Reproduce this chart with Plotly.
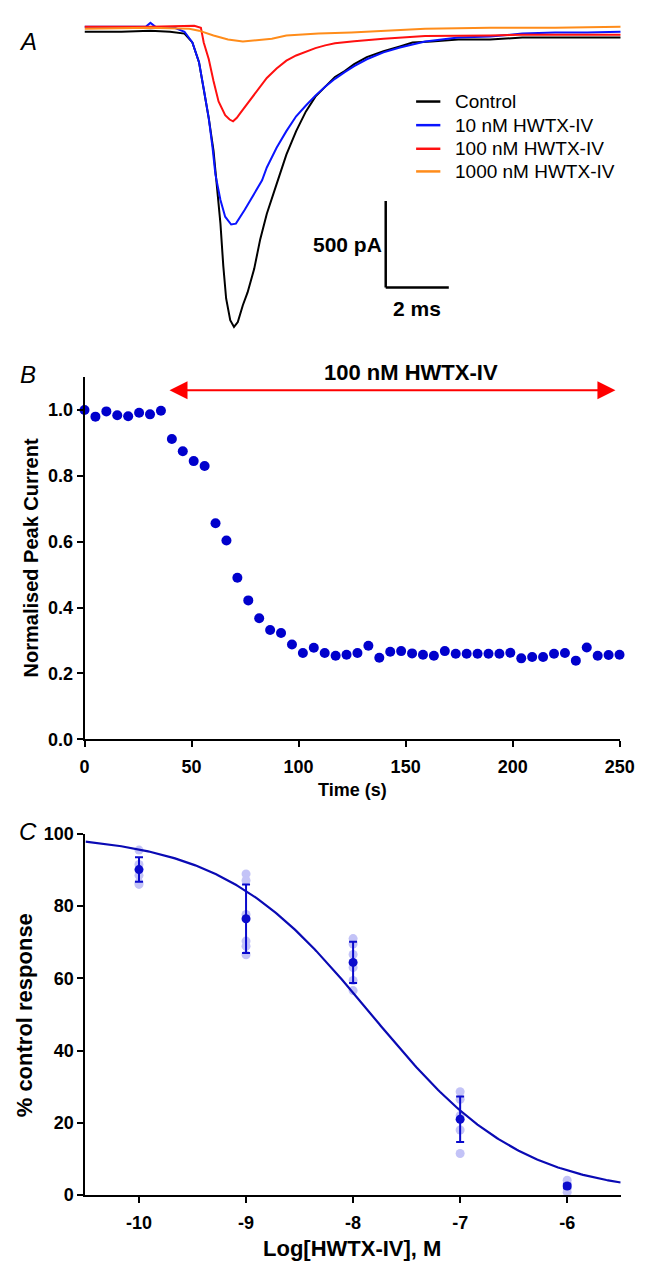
import numpy as np
import plotly.graph_objects as go

# ---------------- Panel A data: current traces (time in ms, current in pA) -------------
ctrl_t = [0, 1.17, 2.09, 2.71, 3.17, 3.42, 3.63, 3.78, 3.94, 4.09, 4.18, 4.31, 4.40, 4.49, 4.62, 4.74,
          4.86, 5.02, 5.17, 5.38, 5.57, 5.78, 6.09, 6.40, 6.71, 7.02, 7.32, 7.63, 7.94, 8.25, 8.55,
          8.95, 9.48, 10.0, 10.4, 11.0, 11.85, 12.86, 13.88, 14.92, 15.94, 17.0]
ctrl_i = [-23, -23, -17, -23, -34, -85, -199, -352, -523, -710, -881, -1131, -1375, -1563, -1688, -1727,
          -1699, -1602, -1528, -1392, -1222, -1074, -903, -733, -597, -483, -398, -341, -284, -250, -210,
          -170, -136, -108, -85, -80, -68, -68, -57, -57, -57, -57]

t10_t = [0, 1.17, 1.94, 2.09, 2.25, 2.86, 3.17, 3.42, 3.63, 3.78, 3.94, 4.06, 4.15, 4.31, 4.46, 4.65,
         4.80, 5.08, 5.38, 5.63, 5.78, 6.09, 6.40, 6.71, 7.02, 7.32, 7.63, 7.94, 8.25, 8.55, 8.95,
         9.48, 10.0, 10.8, 11.85, 12.86, 13.88, 14.92, 15.94, 17.0]
t10_i = [6, 6, 6, 28, 6, 0, -23, -85, -199, -352, -523, -693, -847, -994, -1091, -1136,
         -1131, -1051, -960, -881, -807, -693, -597, -511, -449, -392, -341, -295, -256, -222, -182,
         -142, -114, -80, -57, -51, -34, -28, -28, -23]

t100_t = [0, 2.09, 3.48, 3.69, 3.78, 3.94, 4.09, 4.25, 4.46, 4.60, 4.71, 4.83, 4.95, 5.26, 5.57, 5.78,
          6.09, 6.40, 6.71, 7.02, 7.32, 7.63, 7.94, 8.55, 9.48, 10.8, 11.85, 12.86, 13.88, 15.94, 17.0]
t100_i = [6, 6, 11, 0, -85, -182, -307, -426, -505, -530, -540, -520, -490, -415, -340, -290,
          -235, -190, -160, -138, -118, -102, -90, -78, -63, -48, -48, -45, -40, -40, -40]

t1000_t = [0, 2.09, 3.32, 3.63, 4.09, 4.55, 5.02, 5.48, 5.94, 6.40, 7.42, 8.46, 9.48, 10.8, 12.86, 14.92, 17.0]
t1000_i = [-6, 0, -6, -17, -45, -68, -80, -72, -63, -45, -34, -28, -17, -6, 0, 0, 6]

trace_names = ["Control", "10 nM HWTX-IV", "100 nM HWTX-IV", "1000 nM HWTX-IV"]
trace_colors = ["#000000", "#0a14ff", "#ff1010", "#ff8c1a"]

# ---------------- Panel B data: time course ----------------
time_s = [0, 5.1, 10.2, 15.3, 20.4, 25.5, 30.6, 35.7, 40.8, 45.9, 51.0, 56.1, 61.2, 66.3, 71.4, 76.5,
          81.6, 86.7, 91.8, 96.9, 102.0, 107.1, 112.2, 117.3, 122.4, 127.5, 132.6, 137.7, 142.8, 147.9,
          153.0, 158.1, 163.2, 168.3, 173.4, 178.5, 183.6, 188.7, 193.8, 198.9, 204.0, 209.1, 214.2,
          219.3, 224.4, 229.5, 234.6, 239.7, 244.8, 249.9]
peak_norm = [1.000, 0.980, 0.996, 0.984, 0.981, 0.992, 0.987, 0.998, 0.912, 0.875, 0.845, 0.830,
             0.656, 0.604, 0.491, 0.422, 0.368, 0.332, 0.323, 0.288, 0.262, 0.278, 0.262, 0.254,
             0.257, 0.262, 0.284, 0.248, 0.266, 0.268, 0.261, 0.257, 0.254, 0.268, 0.260, 0.260,
             0.260, 0.260, 0.260, 0.263, 0.246, 0.250, 0.250, 0.260, 0.262, 0.239, 0.279, 0.254,
             0.256, 0.257]
app_start, app_end, app_y = 39, 248, 1.06

# ---------------- Panel C data: concentration-response ----------------
log_conc = [-10, -9, -8, -7, -6]
log_conc_labels = ["-10", "-9", "-8", "-7", "-6"]
resp_mean = [90.1, 76.5, 64.4, 21.0, 2.5]
resp_err = [3.4, 9.5, 5.7, 6.3, 0.6]
indiv_x = [-10] * 5 + [-9] * 6 + [-8] * 6 + [-7] * 5 + [-6] * 4
indiv_y = [95.5, 91.5, 88.5, 86.5, 86.0,
           88.9, 87.1, 77.7, 70.3, 68.9, 66.5,
           71.0, 69.5, 66.6, 63.0, 59.4, 56.6,
           28.6, 26.5, 22.0, 18.0, 11.5,
           4.1, 3.0, 2.0, 0.8]
# Hill fit parameters
fit_top, fit_bottom, fit_logic50, fit_hill = 100.0, 0.0, -7.83, 0.62

W, H = 658, 1271
def px_x(p):
    return p / W
def px_y(p):
    return 1 - p / H

fig = go.Figure()

# Panel A traces
for tt, ii, nm, col in zip([ctrl_t, t10_t, t100_t, t1000_t], [ctrl_i, t10_i, t100_i, t1000_i],
                           trace_names, trace_colors):
    fig.add_trace(go.Scatter(x=tt, y=ii, mode="lines", name=nm, line=dict(color=col, width=2),
                             xaxis="x", yaxis="y", showlegend=False))

# Panel B
fig.add_trace(go.Scatter(x=time_s, y=peak_norm, mode="markers", marker=dict(color="#0000cc", size=10),
                         xaxis="x2", yaxis="y2", showlegend=False, cliponaxis=False))

# Panel C
xf = np.linspace(-10.5, -5.5, 300)
yf = fit_bottom + (fit_top - fit_bottom) / (1 + 10 ** ((xf - fit_logic50) * fit_hill))
fig.add_trace(go.Scatter(x=indiv_x, y=indiv_y, mode="markers", marker=dict(color="#c3c3f7", size=9),
                         xaxis="x3", yaxis="y3", showlegend=False, cliponaxis=False))
fig.add_trace(go.Scatter(x=xf, y=yf, mode="lines", line=dict(color="#0a0ab4", width=2.2),
                         xaxis="x3", yaxis="y3", showlegend=False))
fig.add_trace(go.Scatter(x=log_conc, y=resp_mean, mode="markers", marker=dict(color="#0a0acc", size=9),
                         error_y=dict(type="data", array=resp_err, color="#0a0acc", thickness=2, width=4),
                         xaxis="x3", yaxis="y3", showlegend=False, cliponaxis=False))

axis_common = dict(showline=True, linewidth=2, linecolor="black", ticks="outside", ticklen=6,
                   tickwidth=2, tickcolor="black", showgrid=False, zeroline=False,
                   tickfont=dict(family="Arial", size=18, color="black", weight="bold"))

fig.update_layout(
    width=W, height=H, margin=dict(l=0, r=0, t=0, b=0),
    paper_bgcolor="white", plot_bgcolor="white",
    font=dict(family="Arial", color="black"),
    showlegend=False,
    xaxis=dict(domain=[px_x(82), px_x(635)], range=[0, 17.0], visible=False),
    yaxis=dict(domain=[px_y(330), px_y(0)], range=[-1772.7, 102.3], visible=False),
    xaxis2=dict(axis_common, domain=[px_x(82), px_x(634)], range=[0, 250], anchor="y2",
                tickvals=[0, 50, 100, 150, 200, 250], ticklabelstandoff=4),
    yaxis2=dict(axis_common, domain=[px_y(741), px_y(373)], range=[0, 1.1], anchor="x2",
                tickvals=[0, 0.2, 0.4, 0.6, 0.8, 1.0], ticktext=["0.0", "0.2", "0.4", "0.6", "0.8", "1.0"]),
    xaxis3=dict(axis_common, domain=[px_x(83), px_x(635)], range=[-10.5, -5.5], anchor="y3",
                tickvals=log_conc, ticktext=log_conc_labels, ticklabelstandoff=4),
    yaxis3=dict(axis_common, domain=[px_y(1204), px_y(837)], range=[0, 100], anchor="x3",
                tickvals=[0, 20, 40, 60, 80, 100]),
)

# legend (panel A), drawn as line samples + labels
leg_rows_px = [93, 117, 141, 164]
for nm, col, ry in zip(trace_names, trace_colors, leg_rows_px):
    fig.add_shape(type="line", xref="paper", yref="paper", x0=px_x(424), x1=px_x(449),
                  y0=px_y(ry), y1=px_y(ry), line=dict(color=col, width=2.5))

# scale bar (panel A)
sb_t, sb_i_top, sb_i_bot, sb_len_t = 9.55, -1000, -1500, 2.0
fig.add_shape(type="line", xref="x", yref="y", x0=sb_t, x1=sb_t, y0=sb_i_top, y1=sb_i_bot,
              line=dict(color="black", width=2.5))
fig.add_shape(type="line", xref="x", yref="y", x0=sb_t, x1=sb_t + sb_len_t, y0=sb_i_bot, y1=sb_i_bot,
              line=dict(color="black", width=2.5))

ann = []
bold = dict(family="Arial", color="black", weight="bold")
for nm, ry in zip(trace_names, leg_rows_px):
    ann.append(dict(xref="paper", yref="paper", x=px_x(462), y=px_y(ry), text=nm, showarrow=False,
                    xanchor="left", yanchor="middle", font=dict(family="Arial", size=19, color="black")))
ann.append(dict(xref="x", yref="y", x=sb_t - 0.05, y=-1250, text="500 pA", showarrow=False,
                xanchor="right", yanchor="middle", font=dict(bold, size=21)))
ann.append(dict(xref="x", yref="y", x=sb_t + sb_len_t / 2, y=-1540, text="2 ms", showarrow=False,
                xanchor="center", yanchor="top", font=dict(bold, size=21)))
# panel letters
for lab, yy in [("A", 32), ("B", 370), ("C", 835)]:
    ann.append(dict(xref="paper", yref="paper", x=px_x(24), y=px_y(yy), text="<i>" + lab + "</i>",
                    showarrow=False, xanchor="center", yanchor="middle",
                    font=dict(family="Arial", size=24, color="black")))
# Panel B arrow and label
ann.append(dict(xref="x2", yref="y2", axref="x2", ayref="y2", x=app_end, y=app_y, ax=app_start, ay=app_y,
                text="", showarrow=True, arrowhead=2, startarrowhead=2, arrowside="end+start",
                arrowwidth=2, arrowsize=1.8, startarrowsize=1.8, arrowcolor="#ff0000"))
ann.append(dict(xref="paper", yref="paper", x=px_x(419), y=px_y(368), text="100 nM HWTX-IV",
                showarrow=False, xanchor="center", yanchor="middle", font=dict(bold, size=22)))
# axis titles
ann.append(dict(xref="paper", yref="paper", x=px_x(27), y=px_y(557), text="Normalised Peak Current",
                textangle=-90, showarrow=False, xanchor="center", yanchor="middle", font=dict(bold, size=20)))
ann.append(dict(xref="paper", yref="paper", x=px_x(358), y=px_y(792), text="Time (s)",
                showarrow=False, xanchor="center", yanchor="middle", font=dict(bold, size=18)))
ann.append(dict(xref="paper", yref="paper", x=px_x(21), y=px_y(1021), text="% control response",
                textangle=-90, showarrow=False, xanchor="center", yanchor="middle", font=dict(bold, size=22)))
ann.append(dict(xref="paper", yref="paper", x=px_x(358), y=px_y(1258), text="Log[HWTX-IV], M",
                showarrow=False, xanchor="center", yanchor="middle", font=dict(bold, size=22)))
fig.update_layout(annotations=ann)

fig.write_html("out.html", config={"displayModeBar": False},
               post_script="document.body.style.margin='0';document.body.style.overflow='hidden';")
